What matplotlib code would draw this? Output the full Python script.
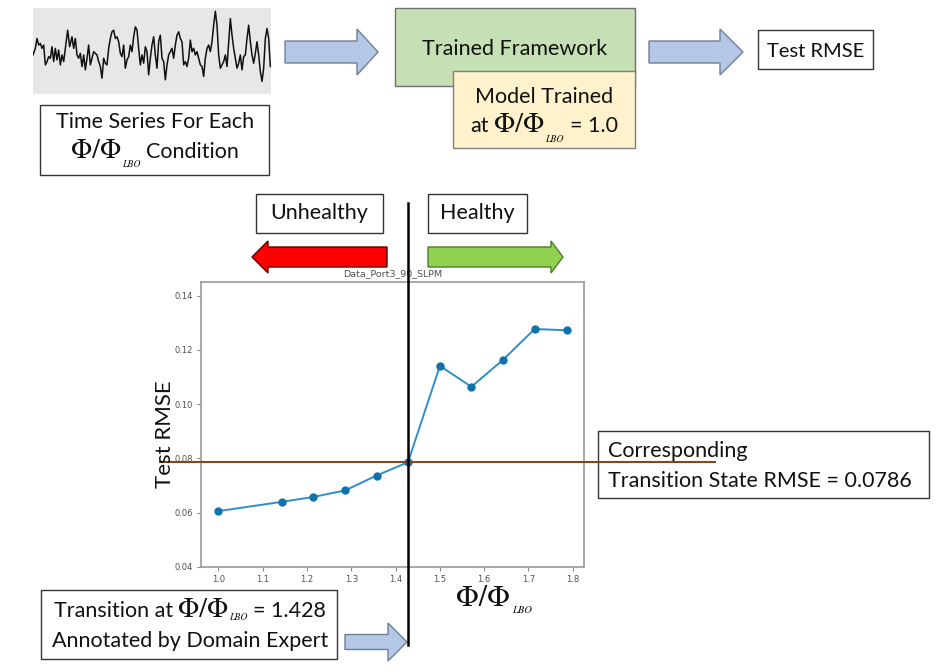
import matplotlib
matplotlib.use('Agg')
import matplotlib.pyplot as plt
from matplotlib.patches import Rectangle, Polygon
from matplotlib.transforms import blended_transform_factory

plt.rcParams['font.family'] = ['Lato', 'DejaVu Sans']

# ---------------- data ----------------
phi_ratio = [1.0, 1.143, 1.214, 1.286, 1.357, 1.428, 1.5, 1.571, 1.643, 1.714, 1.786]
test_rmse = [0.0606, 0.0640, 0.0658, 0.0682, 0.0737, 0.0786, 0.1141, 0.1064, 0.1164, 0.1277, 0.1272]
x_ticks = [1.0, 1.1, 1.2, 1.3, 1.4, 1.5, 1.6, 1.7, 1.8]
y_ticks = [0.04, 0.06, 0.08, 0.10, 0.12, 0.14]
y_limits = (0.04, 0.145)
transition_phi = 1.428
transition_rmse = 0.0786
plot_title = 'Data_Port3_90_SLPM'

# traced sample time-series (picture trace, x / y in trace units)
ts_trace = [(8, 150), (15, 130), (20, 100), (25, 120), (30, 115), (35, 130), (40, 120), (45, 180),
            (50, 170), (55, 155), (60, 160), (65, 125), (70, 170), (75, 130), (80, 165), (85, 135),
            (90, 180), (95, 150), (100, 170), (105, 130), (112, 75), (118, 125), (125, 95), (130, 130),
            (135, 100), (140, 150), (145, 160), (150, 145), (155, 185), (160, 150), (165, 195), (170, 160),
            (175, 120), (180, 180), (185, 160), (190, 140), (195, 145), (200, 150), (205, 170), (210, 185),
            (215, 220), (220, 160), (225, 175), (230, 180), (235, 130), (240, 100), (245, 80), (250, 75),
            (255, 100), (260, 95), (265, 110), (270, 145), (275, 155), (280, 120), (285, 190), (290, 165),
            (295, 155), (300, 120), (305, 140), (310, 95), (315, 65), (320, 75), (325, 130), (330, 180),
            (335, 150), (340, 175), (345, 125), (350, 140), (355, 210), (360, 160), (365, 120), (370, 95),
            (375, 150), (380, 190), (385, 110), (390, 90), (395, 160), (400, 170), (405, 225), (410, 180),
            (415, 150), (420, 140), (425, 130), (430, 160), (435, 120), (440, 90), (445, 80), (450, 100),
            (455, 110), (460, 180), (465, 170), (470, 185), (475, 160), (480, 105), (485, 140), (490, 130),
            (495, 150), (500, 140), (505, 160), (510, 180), (515, 185), (520, 215), (525, 160), (530, 130),
            (535, 120), (540, 140), (545, 110), (550, 60), (555, 18), (560, 60), (565, 150), (570, 190),
            (575, 180), (580, 170), (585, 150), (590, 185), (595, 110), (600, 40), (605, 90), (610, 130),
            (615, 160), (620, 190), (625, 175), (630, 150), (635, 195), (640, 155), (645, 150), (650, 100),
            (655, 60), (660, 110), (665, 150), (670, 175), (675, 145), (680, 110), (685, 150), (690, 200),
            (695, 230), (700, 190), (705, 100), (710, 70), (715, 100), (720, 185)]
ts_x = [p[0] for p in ts_trace]
ts_y = [p[1] for p in ts_trace]

# ---------------- figure ----------------
W, H = 942, 672
fig = plt.figure(figsize=(W / 100, H / 100), dpi=100)
fig.patch.set_facecolor('white')


def frac(x0, y0, x1, y1):
    return [x0 / W, 1 - y1 / H, (x1 - x0) / W, (y1 - y0) / H]


# main data axes
ax = fig.add_axes(frac(201, 282, 584, 567), zorder=1)
ax.plot(phi_ratio, test_rmse, '-', color='#2e8fc6', lw=1.4, zorder=2)
ax.plot(phi_ratio, test_rmse, 'o', color='#1172ab', ms=5, zorder=3)
ax.set_ylim(*y_limits)
ax.set_xticks(x_ticks)
ax.set_yticks(y_ticks)
for lab in ax.get_xticklabels() + ax.get_yticklabels():
    lab.set_family('DejaVu Sans')
ax.tick_params(labelsize=6.0, labelcolor='#505050', color='#8a8a8a', length=3, width=0.8, pad=2.5)
for sp in ax.spines.values():
    sp.set_color('#9a9a9a')
    sp.set_linewidth(1.2)
ax.set_title(plot_title, fontsize=6.8, color='#505050', pad=4, family='DejaVu Sans')

# overlay axes in pixel coordinates
ov = fig.add_axes([0, 0, 1, 1], zorder=5)
ov.set_xlim(0, W)
ov.set_ylim(H, 0)
ov.axis('off')
ov.patch.set_alpha(0)

# time series picture
tsax = fig.add_axes(frac(33, 8, 271, 94), zorder=4)
tsax.set_facecolor('#e7e7e7')
tsax.plot(ts_x, ts_y, color='#111111', lw=1.1)
tsax.set_xlim(8, 722)
tsax.set_ylim(268, 8)
tsax.set_xticks([])
tsax.set_yticks([])
for sp in tsax.spines.values():
    sp.set_visible(False)


def box(x0, y0, x1, y1, fc='white', ec='#333333', lw=1.0, z=2):
    ov.add_patch(Rectangle((x0, y0), x1 - x0, y1 - y0, fc=fc, ec=ec, lw=lw, zorder=z))


def h_arrow(x_tail, x_tip, yc, body_half, head_half, head_len, fc, ec, lw=1.0):
    d = 1 if x_tip > x_tail else -1
    xb = x_tip - d * head_len
    pts = [(x_tail, yc - body_half), (xb, yc - body_half), (xb, yc - head_half), (x_tip, yc),
           (xb, yc + head_half), (xb, yc + body_half), (x_tail, yc + body_half)]
    ov.add_patch(Polygon(pts, closed=True, fc=fc, ec=ec, lw=lw, zorder=3))


FS = 15.5
STY = {
    'txt': dict(family=['Lato', 'DejaVu Sans'], fontsize=FS),
    'phi': dict(family='STIXGeneral', fontsize=20),
    'sub': dict(family='STIXGeneral', style='italic', fontsize=7),
}
renderer = fig.canvas.get_renderer()


def rich_line(xc, yb, parts, ha='center', scale=1.0):
    items = []
    for s, st, gap, dy in parts:
        kw = dict(STY[st])
        kw['fontsize'] = kw['fontsize'] * scale
        t = ov.text(0, yb + dy, s, va='baseline', ha='left', zorder=6, color='#111111', **kw)
        w = t.get_window_extent(renderer).width
        items.append((t, gap, w))
    total = sum(g + w for _, g, w in items)
    x = xc - total / 2 if ha == 'center' else xc
    for t, g, w in items:
        x += g
        t.set_x(x)
        x += w


def txt(x, y, s, ha='center', **kw):
    d = dict(STY['txt'])
    d.update(kw)
    ov.text(x, y, s, ha=ha, va='baseline', zorder=6, color='#111111', **d)


# top row
box(40, 105, 269, 175)
txt(155, 128, 'Time Series For Each')
rich_line(155, 158, [('Φ/Φ', 'phi', 0, 0), ('LBO', 'sub', 1, 9), ('Condition', 'txt', 6, 0)])

h_arrow(285, 378, 52, 11, 23, 21, '#b4c7e7', '#6f7f95')

box(395, 8, 635, 86, fc='#c5e0b4', ec='#707070')
txt(515, 55, 'Trained Framework')
box(453, 71, 635, 148, fc='#fff2cc', ec='#808080')
txt(544, 103, 'Model Trained')
rich_line(544, 132, [('at', 'txt', 0, 0), ('Φ/Φ', 'phi', 5, 0), ('LBO', 'sub', 1, 10), ('= 1.0', 'txt', 6, 0)])

h_arrow(649, 743, 52, 11, 23, 23, '#b4c7e7', '#6f7f95')
box(758, 30, 873, 69)
txt(815.5, 57, 'Test RMSE', fontsize=14.5)

# unhealthy / healthy
box(256, 194, 383, 233)
txt(319, 219, 'Unhealthy')
box(428, 194, 527, 233)
txt(477, 219, 'Healthy')
h_arrow(387, 252, 257, 10, 16, 16, '#ff0000', '#5a0000')
h_arrow(428, 563, 257, 10, 16, 12, '#92d050', '#4f7a2c')

# axis labels
ov.text(165, 434, 'Test RMSE', rotation=90, ha='center', va='center', fontsize=16,
        family=['Lato', 'DejaVu Sans'], color='#111111', zorder=6)
rich_line(494, 606, [('Φ/Φ', 'phi', 0, 0), ('LBO', 'sub', 3, 7)], scale=1.08)

# right annotation box
box(598, 431, 929, 498)
txt(608, 457, 'Corresponding', ha='left')
txt(608, 487, 'Transition State RMSE = 0.0786', ha='left')

# bottom annotation box
box(41, 590, 337, 659)
rich_line(190, 617, [('Transition at', 'txt', 0, 0), ('Φ/Φ', 'phi', 5, 0), ('LBO', 'sub', 1, 3),
                     ('= 1.428', 'txt', 6, 0)])
txt(190, 647, 'Annotated by Domain Expert')
h_arrow(345, 407, 642, 7.5, 19, 19, '#b4c7e7', '#6f7f95')

# transition lines (data value on one axis, pixel extent on the other)
hb = blended_transform_factory(ov.transData, ax.transData)
ov.plot([160, 715], [transition_rmse, transition_rmse], color='#8b4513', lw=1.5,
        transform=hb, zorder=4, clip_on=False)
vb = blended_transform_factory(ax.transData, ov.transData)
ov.plot([transition_phi, transition_phi], [203, 645], color='black', lw=1.8,
        transform=vb, zorder=5, clip_on=False)

fig.savefig('out.png', dpi=100, facecolor='white')
